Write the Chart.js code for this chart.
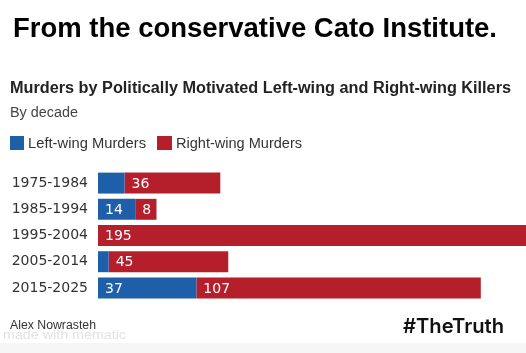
<!DOCTYPE html>
<html>
<head>
<meta charset="utf-8">
<script src="https://cdn.jsdelivr.net/npm/chart.js@4.4.1/dist/chart.umd.min.js"></script>
<style>
  html, body { margin: 0; padding: 0; background: #fff; }
  canvas { display: block; }
</style>
</head>
<body>
<canvas id="myChart" width="526" height="353"></canvas>
<script>
const decades = ['1975-1984', '1985-1994', '1995-2004', '2005-2014', '2015-2025'];
const leftWing = [10, 14, 0, 4, 37];
const rightWing = [36, 8, 195, 45, 107];
const seriesNames = ['Left-wing Murders', 'Right-wing Murders'];
const xMax = 161;

const blue = '#1f5faa';
const red = '#b41f2b';

// draw text squeezed/stretched to a given width
function fitText(c, text, x, y, w, font, color) {
  c.save();
  c.font = font;
  c.fillStyle = color;
  c.textBaseline = 'alphabetic';
  c.textAlign = 'left';
  const m = c.measureText(text).width;
  c.translate(x, y);
  c.scale(w / m, 1);
  c.fillText(text, 0, 0);
  c.restore();
}

const extras = {
  id: 'extras',
  beforeDraw(chart) {
    const c = chart.ctx;
    c.save();
    c.fillStyle = '#fff';
    c.fillRect(0, 0, chart.width, chart.height);
    c.fillStyle = '#f6f6f6';
    c.fillRect(0, 343, chart.width, 10);
    c.restore();

    fitText(c, 'From the conservative Cato Institute.', 13, 37, 484, 'bold 27px "Liberation Sans"', '#000');
    fitText(c, 'Murders by Politically Motivated Left-wing and Right-wing Killers', 10, 93, 501, 'bold 16px "Liberation Sans"', '#222');
    fitText(c, 'By decade', 10, 117, 68, '14px "Liberation Sans"', '#444');

    // legend
    c.fillStyle = blue;
    c.fillRect(10, 136, 14, 14);
    c.fillStyle = red;
    c.fillRect(157, 136, 15, 14);
    fitText(c, seriesNames[0], 28, 148, 118, '14px "Liberation Sans"', '#333');
    fitText(c, seriesNames[1], 176, 148, 126, '14px "Liberation Sans"', '#333');

    // footer
    fitText(c, 'Alex Nowrasteh', 10, 329, 86, '12px "Liberation Sans"', '#333');
    fitText(c, 'made with mematic', 3, 339, 123, '12px "Liberation Sans"', '#e2e2e2');
    fitText(c, '#TheTruth', 403, 333, 101, '600 20px "Inter"', '#111');
  },
  afterDatasetsDraw(chart) {
    const c = chart.ctx;
    const minLabel = [12, 1];
    c.save();
    c.font = '14px "DejaVu Sans"';
    c.fillStyle = '#fff';
    c.textBaseline = 'middle';
    c.textAlign = 'left';
    chart.data.datasets.forEach((ds, i) => {
      chart.getDatasetMeta(i).data.forEach((bar, j) => {
        const v = ds.data[j];
        if (v < minLabel[i]) return;
        const left = Math.min(bar.x, bar.base);
        c.fillText(String(v), left + 7, bar.y + 1);
      });
    });
    c.restore();
  }
};

new Chart(document.getElementById('myChart'), {
  type: 'bar',
  data: {
    labels: decades,
    datasets: [
      {
        label: seriesNames[0],
        data: leftWing,
        backgroundColor: blue,
        borderWidth: 0,
        categoryPercentage: 1,
        barPercentage: 0.8
      },
      {
        label: seriesNames[1],
        data: rightWing,
        backgroundColor: red,
        borderWidth: 0,
        categoryPercentage: 1,
        barPercentage: 0.8
      }
    ]
  },
  options: {
    indexAxis: 'y',
    responsive: false,
    animation: false,
    layout: { padding: { top: 170, bottom: 52, left: 0, right: 0 } },
    plugins: {
      legend: { display: false },
      tooltip: { enabled: false }
    },
    scales: {
      x: { stacked: true, display: false, min: 0, max: xMax },
      y: {
        stacked: true,
        grid: { display: false, drawTicks: false },
        border: { display: false },
        ticks: { padding: 10, color: '#333', font: { family: 'DejaVu Sans', size: 14 } },
        afterFit(scale) { scale.width = 98; }
      }
    }
  },
  plugins: [extras]
});
</script>
</body>
</html>
